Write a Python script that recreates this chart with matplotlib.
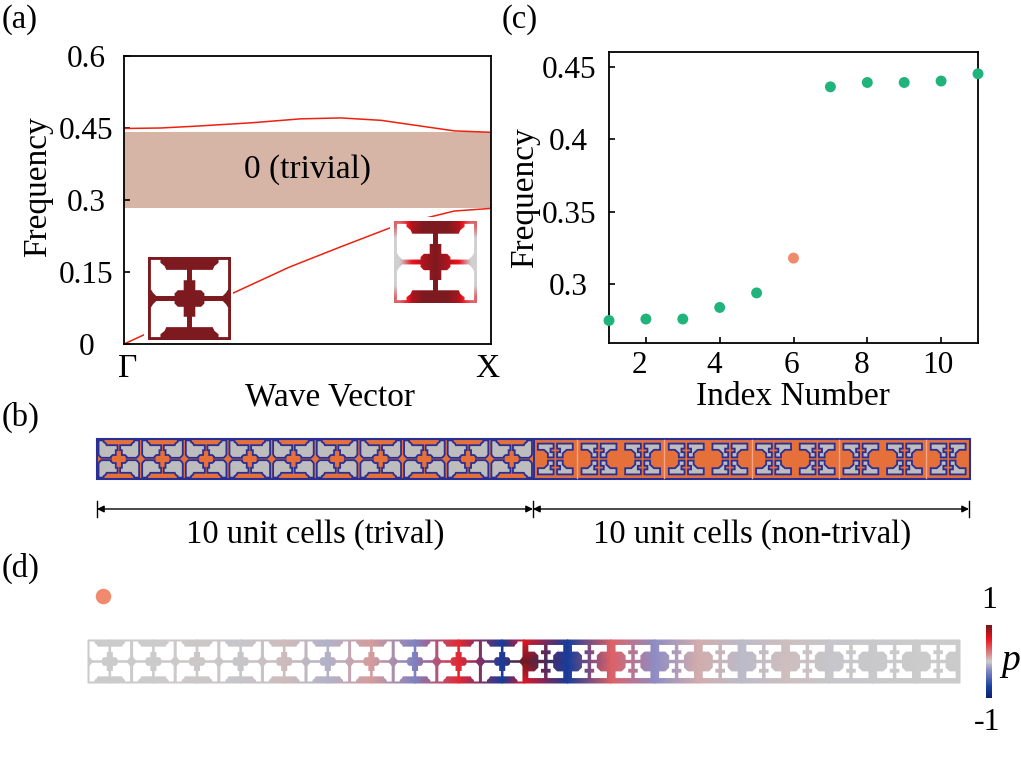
import numpy as np
import matplotlib
matplotlib.use('Agg')
import matplotlib.pyplot as plt
from matplotlib.colors import LinearSegmentedColormap
from matplotlib.patches import Polygon, Rectangle
from matplotlib.transforms import ScaledTranslation

plt.rcParams['font.family'] = ['Liberation Serif', 'DejaVu Serif']

# band diagram (a)
k_upper = [0, 0.1, 0.2, 0.35, 0.48, 0.59, 0.7, 0.8, 0.9, 1]
band_upper = [0.449, 0.45, 0.454, 0.461, 0.469, 0.471, 0.466, 0.455, 0.444, 0.441]
k_lower = [0, 0.054, 0.15, 0.297, 0.45, 0.589, 0.725, 0.82, 0.9, 1]
band_lower = [0, 0.019, 0.052, 0.106, 0.16, 0.202, 0.242, 0.262, 0.277, 0.2825]
gap_low = 0.2825
gap_high = 0.441

# eigenfrequencies (c)
index_number = [1, 2, 3, 4, 5, 6, 7, 8, 9, 10, 11]
frequency = [0.275, 0.276, 0.276, 0.284, 0.294, 0.318, 0.436, 0.439, 0.439, 0.44, 0.445]
edge_index = 5

# pressure amplitude: ten trivial cell centres, the interface, ten non-trivial blobs (d)
cell_p = [0, 0, 0.01, -0.02, 0.05, -0.09, 0.15, -0.28, 0.55, -0.72, 1.0,
          -0.72, 0.35, -0.22, 0.1, -0.06, 0.04, -0.02, -0.01, 0, 0]
# same positions along the top and bottom edge of the strip
edge_p = [0, 0, 0.01, -0.02, 0.05, -0.09, 0.15, -0.28, 0.55, -0.72, 0.62,
          -0.72, 0.35, -0.22, 0.1, -0.06, 0.04, -0.02, -0.01, 0, 0]

# field of the right inset of (a), top half, mirrored for the bottom
inset_field = [[0.45, 0.9, 1.0, 1.0, 1.0, 0.9, 0.45],
               [0.0, 0.95, 1.0, 1.0, 1.0, 0.95, 0.0],
               [0.0, 0.3, 0.9, 1.0, 0.9, 0.3, 0.0],
               [0.0, 0.8, 0.92, 1.0, 0.92, 0.8, 0.0]]

ORANGE = '#e5703a'
NAVY = '#2b2f94'
GREEN = '#20b47c'
SALMON = '#f08a6c'
MAROON = '#7d1a20'

# quarter of the hole, measured from the top left corner of a unit cell
trivial_hole = [(.035, .035), (.15, .035), (.15, .07), (.20, .11), (.22, .155), (.47, .155),
                (.47, .28), (.43, .28), (.43, .40), (.36, .40), (.32, .44), (.32, .47),
                (.10, .47), (.06, .43), (.035, .39)]
nontrivial_hole = [(.10, .115), (.46, .115), (.46, .24), (.39, .24), (.39, .33), (.46, .33),
                   (.46, .46), (.33, .46), (.33, .36), (.24, .27), (.10, .27)]

p_cmap = LinearSegmentedColormap.from_list('p', [
    (0, '#10206f'), (0.15, '#1540a0'), (0.38, '#8888c4'), (0.5, '#cccccc'),
    (0.62, '#dc8080'), (0.82, '#e8101c'), (1, '#76181c')])


def holes(ax, x0, y0, w, h, shape, face, edge=None, lw=0, z=5):
	# mirror the quarter shape into the four corners of the cell
	for mx, my in [(0, 0), (1, 0), (0, 1), (1, 1)]:
		pts = [(x0 + w*(1-u if mx else u), y0 + h*(1-v if my else v)) for u, v in shape]
		ax.add_patch(Polygon(pts, closed=True, fc=face, ec=edge if edge else 'none', lw=lw, zorder=z))


fig = plt.figure(figsize=(10.21, 7.82), dpi=100)
W, H = 1021.0, 782.0


def pixel_axes(left, top, right, bottom):
	return fig.add_axes([left/W, 1-bottom/H, (right-left)/W, (bottom-top)/H])


# panel a
ax = pixel_axes(124, 56, 491, 344)
ax.fill_between([0, 1], gap_low, gap_high, color='#d6b5a6', lw=0)
ax.plot(k_upper, band_upper, color='#ee2010', lw=1.1)
ax.plot(k_lower, band_lower, color='#ee2010', lw=1.1)
ax.set_xlim(0, 1)
ax.set_ylim(0, 0.6)
ax.set_yticks([0, 0.15, 0.3, 0.45, 0.6])
ax.set_yticklabels(['0', '0.15', '0.3', '0.45', '0.6'], fontsize=22.5, ha='center')
ax.set_xticks([0.01, 0.99])
ax.set_xticklabels(['Γ', 'X'], fontsize=24)
ax.tick_params(axis='x', length=0, pad=7)
ax.tick_params(axis='y', direction='in', length=4, width=1.2, pad=27)
ax.text(0.5, 0.3625, '0 (trivial)', ha='center', va='center', fontsize=24)
for s in ax.spines.values():
	s.set_linewidth(1.3)

# panel c
ax = pixel_axes(609, 52, 978, 343)
colors = [SALMON if i == edge_index else GREEN for i in range(len(frequency))]
ax.scatter(index_number, frequency, c=colors, s=62, lw=0, clip_on=False, zorder=5)
ax.set_xlim(1, 11)
ax.set_ylim(0.2595, 0.46)
ax.set_xticks([2, 4, 6, 8, 10])
ax.set_yticks([0.3, 0.35, 0.4, 0.45])
ax.set_yticklabels(['0.3', '0.35', '0.4', '0.45'], fontsize=22.5, ha='center')
ax.set_xticklabels(['2', '4', '6', '8', '10'], fontsize=22.5)
ax.tick_params(direction='in', length=4, width=1.2)
ax.tick_params(axis='y', pad=29)
ax.tick_params(axis='x', pad=6)
for t, dx in zip(ax.get_xticklabels(), [-6, -6, -2, -6, -3]):
	t.set_transform(t.get_transform() + ScaledTranslation(dx/100, 0, fig.dpi_scale_trans))
for s in ax.spines.values():
	s.set_linewidth(1.3)

# everything else is placed on a full figure overlay in pixels
ov = fig.add_axes([0, 0, 1, 1])
ov.set_facecolor('none')
ov.axis('off')

# axis titles
ov.text(330, 397, 'Wave Vector', ha='center', va='center', fontsize=24)
ov.text(793, 397, 'Index Number', ha='center', va='center', fontsize=24)
ov.text(38, 187, 'Frequency', ha='center', va='center', rotation=90, fontsize=24)
ov.text(525, 198, 'Frequency', ha='center', va='center', rotation=90, fontsize=24)

# insets of panel a
ov.add_patch(Rectangle((144, 253), 89, 88, fc='white', ec='none', zorder=3))
ov.add_patch(Rectangle((148, 257), 83, 83, fc=MAROON, ec='none', zorder=4))
holes(ov, 148, 257, 83, 83, trivial_hole, 'white')

ov.add_patch(Rectangle((390, 217), 91, 90, fc='white', ec='none', zorder=3))
top_half = np.array(inset_field)
ov.imshow(np.vstack([top_half, top_half[-2::-1]]), cmap=LinearSegmentedColormap.from_list(
    'inset', [(0, '#d0d0d0'), (0.8, '#e8101c'), (1, '#7d1a20')]), vmin=0, vmax=1,
    aspect='auto', interpolation='bilinear', extent=(394, 477, 303, 221), zorder=4)
holes(ov, 394, 221, 83, 82, trivial_hole, 'white')

# panel b strip
bx0, bx1, by0, by1 = 97.0, 970.0, 439.0, 479.0
bw = (bx1 - bx0) / 20
ov.add_patch(Rectangle((bx0, by0), bx1-bx0, by1-by0, fc=ORANGE, ec=NAVY, lw=1.5, zorder=4))
for i in range(20):
	x = bx0 + i*bw
	if i < 10:
		holes(ov, x, by0, bw, by1-by0, trivial_hole, '#bdbdbd', NAVY, 1.3)
	else:
		holes(ov, x, by0, bw, by1-by0, nontrivial_hole, '#bdbdbd', NAVY, 1.3)
		if i % 2 == 1:
			ov.plot([x, x], [by0+1, by1-1], color='#f5a888', lw=1, zorder=6)
ov.plot([bx0+10*bw]*2, [by0, by1], color=NAVY, lw=1.4, zorder=6)

# dimension arrows
ov.annotate('', xy=(97, 509), xytext=(533, 509), arrowprops=dict(arrowstyle='<|-|>', color='k', lw=1, shrinkA=0, shrinkB=0))
ov.annotate('', xy=(533, 509), xytext=(969, 509), arrowprops=dict(arrowstyle='<|-|>', color='k', lw=1, shrinkA=0, shrinkB=0))
for x in [97, 533, 969]:
	ov.plot([x, x], [501, 517], color='k', lw=1)
ov.text(315, 535, '10 unit cells (trival)', ha='center', va='center', fontsize=23.5)
ov.text(752, 535, '10 unit cells (non-trival)', ha='center', va='center', fontsize=23.5)

# panel d strip, field first and then the holes on top
dx0, dx1, dy0, dy1 = 88.0, 960.0, 640.0, 683.0
dw = (dx1 - dx0) / 20
sample_x = [dx0 + (i+0.5)*dw for i in range(10)] + [dx0 + (10+i)*dw for i in range(11)]
sample_x = np.array([dx0] + sample_x)
centre_row = np.array([cell_p[0]] + cell_p)
edge_row = np.array([edge_p[0]] + edge_p)
ov.pcolormesh(sample_x, [dy0, (dy0+dy1)/2, dy1], np.vstack([edge_row, centre_row, edge_row]),
              shading='gouraud', cmap=p_cmap, vmin=-1, vmax=1, zorder=4)
for i in range(20):
	shape = trivial_hole if i < 10 else nontrivial_hole
	holes(ov, dx0 + i*dw, dy0, dw, dy1-dy0, shape, 'white')
ov.scatter([103], [596], s=125, c=SALMON, lw=0, zorder=5)

# colour bar
ov.imshow(np.linspace(1, -1, 200).reshape(-1, 1), cmap=p_cmap, vmin=-1, vmax=1, aspect='auto',
          extent=(986, 992, 698, 625), zorder=4)
ov.text(989, 601, '1', ha='center', va='center', fontsize=23)
ov.text(987, 722, '-1', ha='center', va='center', fontsize=23)
ov.text(1011, 661, 'p', ha='center', va='center', fontsize=27, style='italic')

# panel letters
ov.text(2, 20, '(a)', va='center', fontsize=23.5)
ov.text(2, 417, '(b)', va='center', fontsize=23.5)
ov.text(502, 20, '(c)', va='center', fontsize=23.5)
ov.text(2, 568, '(d)', va='center', fontsize=23.5)

ov.set_xlim(0, W)
ov.set_ylim(H, 0)

fig.savefig('out.png', dpi=100)
